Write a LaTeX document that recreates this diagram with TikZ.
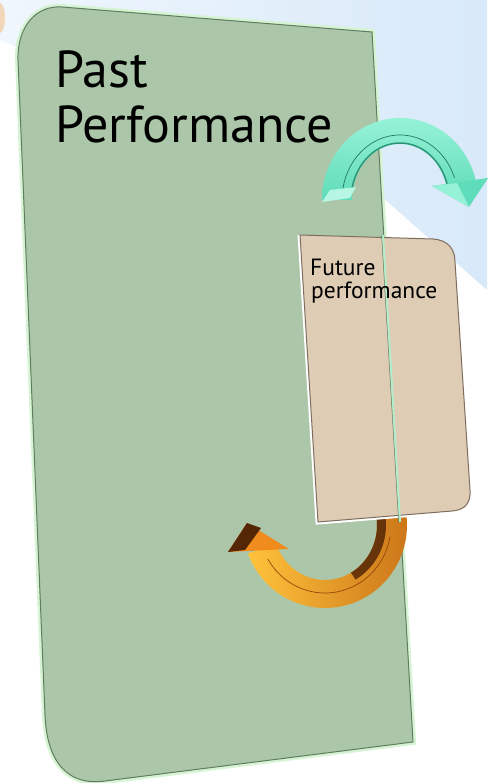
\documentclass[tikz,border=0pt]{standalone}
\usepackage{fontspec}
\setmainfont{PT Sans}
\usetikzlibrary{calc}
\definecolor{pgreen}{RGB}{171,198,168}
\definecolor{pmint}{RGB}{214,244,212}
\definecolor{pdark}{RGB}{95,125,95}
\definecolor{beige}{RGB}{223,204,181}
\definecolor{bdark}{RGB}{125,110,95}
\definecolor{skyb}{RGB}{216,233,249}
\definecolor{tealA}{RGB}{150,242,215}
\definecolor{tealB}{RGB}{95,220,185}
\definecolor{tealC}{RGB}{45,150,120}
\definecolor{orA}{RGB}{255,195,60}
\definecolor{orB}{RGB}{240,140,30}
\definecolor{orC}{RGB}{150,70,10}
\definecolor{orD}{RGB}{85,38,5}
\def\GPpath{(18,60) -- (45,715) .. controls (47,765) and (70,786) .. (105,781) -- (413,742) -- (372,32) -- (62,7) .. controls (35,5) and (17,28) .. (18,60) -- cycle}
\def\BPpath{(300,235) -- (433,239) .. controls (447,240) and (455,248) .. (455,262) -- (470,490) .. controls (471,503) and (465,510) .. (452,511) -- (318,522) -- cycle}
\tikzset{
  bigtext/.style={anchor=base west, inner sep=0pt, font=\fontsize{52}{58}\selectfont},
  smalltext/.style={anchor=base west, inner sep=0pt, font=\fontsize{23.5}{26}\selectfont}
}
\begin{document}
\begin{tikzpicture}[x=1pt,y=-1pt]
\useasboundingbox (0,0) rectangle (487,783);
\fill[white] (0,0) rectangle (487,783);
\shade[left color=white!60!skyb, right color=skyb] (0,0) -- (487,0) -- (487,290) -- (380,195) -- (0,40) -- cycle;
\fill[orB!60, opacity=0.5] (0,18) ellipse [x radius=5, y radius=15];
% green panel
\draw[pmint, line width=6] \GPpath;
\fill[pgreen] \GPpath;
\draw[pdark, line width=1] \GPpath;
\node[bigtext] (past) at (55,88) {Past};
\node[bigtext] (perf) at (55,143) {Performance};
% teal arrow
\shade[top color=tealA, bottom color=tealB]
  plot[domain=180:12, samples=60] ({400+78*cos(\x)},{200-82*sin(\x)})
  -- plot[domain=12:180, samples=60] ({400+48*cos(\x)},{200-56*sin(\x)}) -- cycle;
\draw[tealC, line width=1.5] plot[domain=175:14, samples=60] ({400+49*cos(\x)},{200-57*sin(\x)});
\draw[tealC!80!black, line width=0.7] plot[domain=170:20, samples=60] ({400+58*cos(\x)},{200-65*sin(\x)});
\fill[tealA!70!white] (322,202) -- (350,198) -- (356,187) -- (330,190) -- cycle;
\fill[tealB] (432,186) -- (488,178) -- (469,207) -- cycle;
\fill[tealA] (432,186) -- (457,183) -- (469,207) -- cycle;
% orange arrow
\shade[left color=orA, right color=orB!85!black]
  plot[domain=12:-160, samples=60] ({325+82*cos(\x)},{525-83*sin(\x)})
  -- plot[domain=-160:12, samples=60] ({325+52*cos(\x)},{525-55*sin(\x)}) -- cycle;
\fill[orD, opacity=0.85]
  plot[domain=12:-60, samples=40] ({325+52*cos(\x)},{525-55*sin(\x)})
  -- plot[domain=-60:12, samples=40] ({325+61*cos(\x)},{525-63*sin(\x)}) -- cycle;
\draw[orC, line width=0.7] plot[domain=-150:-10, samples=60] ({325+66*cos(\x)},{525-68*sin(\x)});
\fill[orB] (228,552) -- (247,523) -- (289,549) -- cycle;
\fill[orD] (228,552) -- (247,523) -- (261,528) -- (245,550) -- cycle;
% beige panel
\draw[white, line width=5] (452,511) -- (318,522) -- (300,235);
\fill[beige] \BPpath;
\draw[bdark, line width=1] \BPpath;
\draw[pmint!70!tealB, line width=2] (383,235) -- (400,522);
\draw[pdark, line width=0.5] (381.6,235) -- (398.6,522);
\node[smalltext] (fut) at (310,275) {Future};
\node[smalltext] (fperf) at (311,298) {performance};
\end{tikzpicture}
\end{document}
